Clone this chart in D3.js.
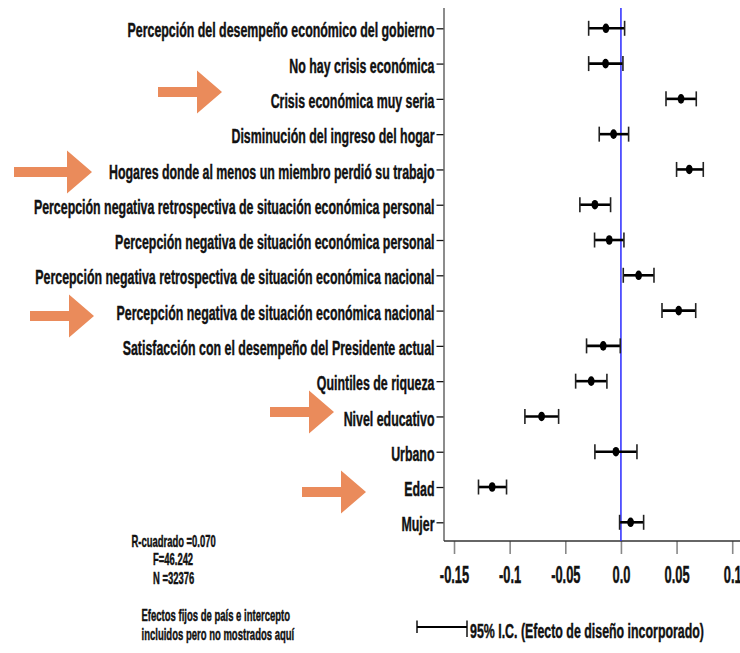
<!DOCTYPE html>
<html><head><meta charset="utf-8">
<script src="https://cdn.jsdelivr.net/npm/d3@7"></script>
<style>
html,body{margin:0;padding:0;background:#fff;}
svg{display:block;}
text{font-family:"Liberation Sans",Arial,sans-serif;font-weight:bold;fill:#111;stroke:#111;stroke-width:0.45px;}
</style></head>
<body>
<svg id="chart" width="740" height="653"></svg>
<script>
const categories = [
  "Percepción del desempeño económico del gobierno",
  "No hay crisis económica",
  "Crisis económica muy seria",
  "Disminución del ingreso del hogar",
  "Hogares donde al menos un miembro perdió su trabajo",
  "Percepción negativa retrospectiva de situación económica personal",
  "Percepción negativa de situación económica personal",
  "Percepción negativa retrospectiva de situación económica nacional",
  "Percepción negativa de situación económica nacional",
  "Satisfacción con el desempeño del Presidente actual",
  "Quintiles de riqueza",
  "Nivel educativo",
  "Urbano",
  "Edad",
  "Mujer"
];
const estimates = [-0.0135, -0.0138, 0.0540, -0.0066, 0.0614, -0.0234, -0.0105, 0.0159, 0.0519, -0.0159, -0.0267, -0.0713, -0.0045, -0.1157, 0.0087];
const lower     = [-0.0290, -0.0290, 0.0405, -0.0195, 0.0500, -0.0369, -0.0237, 0.0021, 0.0369, -0.0309, -0.0407, -0.0863, -0.0234, -0.1280, -0.0012];
const upper     = [ 0.0033,  0.0018, 0.0677,  0.0069, 0.0740, -0.0093,  0.0027, 0.0297, 0.0672, -0.0006, -0.0126, -0.0560,  0.0144, -0.1028, 0.0204];
const tickValues = [-0.15, -0.1, -0.05, 0.0, 0.05, 0.1];
const tickLabels = ["-0.15", "-0.1", "-0.05", "0.0", "0.05", "0.1"];
const statsLines = ["R-cuadrado =0.070", "F=46.242", "N =32376"];
const noteLines = ["Efectos fijos de país e intercepto", "incluidos pero no mostrados aquí"];
const legendLabel = "95% I.C. (Efecto de diseño incorporado)";
// decorative annotation arrows (pixel placement)
const arrowNotes = [
  {x0: 158, tip: 222, y: 92},
  {x0: 14,  tip: 92,  y: 172},
  {x0: 30,  tip: 94,  y: 316},
  {x0: 270, tip: 334, y: 412},
  {x0: 302, tip: 366, y: 492}
];

const svg = d3.select("#chart");
const x = d3.scaleLinear().domain([-0.159, 0.107]).range([444, 740]);
const y = d3.scalePoint().domain(categories).range([28.3, 522.3]);
const axisTop = 8, axisBottom = 541;

const rows = categories.map((c, i) => ({c, est: estimates[i], lo: lower[i], hi: upper[i]}));

function squeezed(sel, px, py, size, sx, anchor) {
  return sel.append("text")
    .attr("transform", `translate(${px},${py}) scale(${sx},1)`)
    .attr("font-size", size).attr("text-anchor", anchor || "start");
}

// left axis
const yAxis = d3.axisLeft(y).tickSize(7.5);
const gy = svg.append("g").attr("transform", `translate(${x.range()[0]},0)`).call(yAxis);
gy.select(".domain").remove();
gy.append("line").attr("x1", 0).attr("x2", 0).attr("y1", axisTop).attr("y2", axisBottom)
  .attr("stroke", "#666").attr("stroke-width", 1.5);
gy.selectAll(".tick line").attr("stroke", "#111").attr("stroke-width", 1.3);
gy.selectAll(".tick text")
  .attr("x", null).attr("dy", null).attr("y", null)
  .attr("transform", "translate(-9.5,8.6) scale(0.59,1)")
  .attr("font-size", 21).attr("fill", "#111")
  .attr("font-family", "'Liberation Sans',Arial,sans-serif").attr("font-weight", "bold");

// bottom axis
const xAxis = d3.axisBottom(x).tickValues(tickValues).tickFormat((d, i) => tickLabels[i]).tickSize(13);
const gx = svg.append("g").attr("transform", `translate(0,${axisBottom})`).call(xAxis);
gx.select(".domain").remove();
gx.append("line").attr("x1", x.range()[0]).attr("x2", x.range()[1]).attr("y1", 0).attr("y2", 0)
  .attr("stroke", "#333").attr("stroke-width", 1.6);
gx.selectAll(".tick line").attr("stroke", "#888").attr("stroke-width", 1.6);
gx.selectAll(".tick text")
  .attr("y", null).attr("dy", null)
  .attr("transform", "translate(0,42) scale(0.56,1)")
  .attr("font-size", 23).attr("fill", "#111")
  .attr("font-family", "'Liberation Sans',Arial,sans-serif").attr("font-weight", "bold");

// zero reference line
svg.append("line").attr("x1", x(0)).attr("x2", x(0)).attr("y1", axisTop).attr("y2", axisBottom)
  .attr("stroke", "#2a2aff").attr("stroke-width", 1.5);

// error bars
const g = svg.append("g");
const bars = g.selectAll("g.bar").data(rows).join("g").attr("class", "bar");
bars.append("line").attr("x1", d => x(d.lo)).attr("x2", d => x(d.hi))
  .attr("y1", d => y(d.c)).attr("y2", d => y(d.c)).attr("stroke", "#000").attr("stroke-width", 2.6);
bars.append("line").attr("x1", d => x(d.lo)).attr("x2", d => x(d.lo))
  .attr("y1", d => y(d.c) - 7.5).attr("y2", d => y(d.c) + 7.5).attr("stroke", "#222").attr("stroke-width", 1.6);
bars.append("line").attr("x1", d => x(d.hi)).attr("x2", d => x(d.hi))
  .attr("y1", d => y(d.c) - 7.5).attr("y2", d => y(d.c) + 7.5).attr("stroke", "#222").attr("stroke-width", 1.6);
bars.append("ellipse").attr("cx", d => x(d.est)).attr("cy", d => y(d.c)).attr("rx", 3.4).attr("ry", 4.8).attr("fill", "#000");

// arrows
const arrowColor = "#EA8B5B";
svg.append("g").selectAll("path").data(arrowNotes).join("path")
  .attr("d", a => {
    const base = a.tip - 25, t = 5, h = 21.5;
    return `M${a.x0},${a.y - t}L${base},${a.y - t}L${base},${a.y - h}L${a.tip},${a.y}L${base},${a.y + h}L${base},${a.y + t}L${a.x0},${a.y + t}Z`;
  })
  .attr("fill", arrowColor);

// stats text
statsLines.forEach((s, i) => {
  squeezed(svg, i === 0 ? 131.5 : 153, 546.5 + i * 18.7, 16, 0.59).text(s);
});
noteLines.forEach((s, i) => {
  squeezed(svg, 141.5, 620.5 + i * 19, 17, 0.56).text(s);
});

// legend
const lg = svg.append("g");
lg.append("line").attr("x1", 417).attr("x2", 467).attr("y1", 627).attr("y2", 627).attr("stroke", "#000").attr("stroke-width", 1.8);
lg.append("line").attr("x1", 417).attr("x2", 417).attr("y1", 620.5).attr("y2", 633).attr("stroke", "#000").attr("stroke-width", 1.4);
lg.append("line").attr("x1", 467).attr("x2", 467).attr("y1", 620.5).attr("y2", 637).attr("stroke", "#000").attr("stroke-width", 1.4);
squeezed(lg, 470, 637.5, 21, 0.59).text(legendLabel);
</script>
</body></html>
